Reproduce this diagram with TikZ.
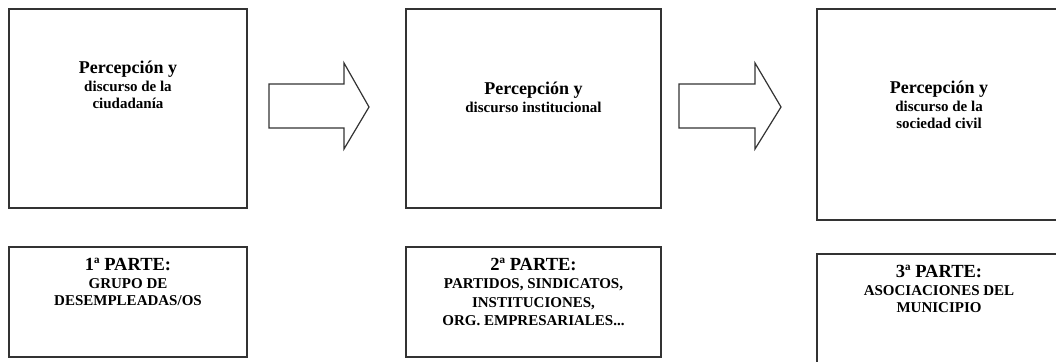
\documentclass[tikz,border=0pt]{standalone}
\usepackage{fontspec}
\setmainfont{Liberation Serif}
\begin{document}
\begin{tikzpicture}[x=1pt,y=-1pt,
  box/.style={draw=black!80,line width=1.2pt,fill=white},
  blockarrow/.style={draw=black!80,line width=1.2pt,fill=white,line join=miter},
  txt/.style={inner sep=0pt,align=center,anchor=north,font=\bfseries\fontsize{15}{17.5}\selectfont}]
\clip (0,0) rectangle (1056,361);
\fill[white] (0,0) rectangle (1056,361);
% boxes
\draw[box] (9,9) rectangle (247,208);
\draw[box] (9,247) rectangle (247,357);
\draw[box] (406,9) rectangle (661,208);
\draw[box] (406,247) rectangle (661,357);
\draw[box] (817,9) rectangle (1062,220);
\draw[box] (817,254) rectangle (1062,366);
% arrows
\draw[blockarrow] (269,84) -- (344,84) -- (344,63) -- (369,107) -- (344,149) -- (344,128) -- (269,128) -- cycle;
\draw[blockarrow] (679,84) -- (755,84) -- (755,63) -- (781,107) -- (755,149) -- (755,128) -- (679,128) -- cycle;
% texts
\node[txt] (t1) at (128,61) {{\fontsize{18}{18}\selectfont Percepción y}\\discurso de la\\ciudadanía};
\node[txt] (t2) at (533.5,82) {{\fontsize{18}{18}\selectfont Percepción y}\\discurso institucional};
\node[txt] (t3) at (939,81) {{\fontsize{18}{18}\selectfont Percepción y}\\discurso de la\\sociedad civil};
\node[txt] (b1) at (128,258) {{\fontsize{18.5}{18.5}\selectfont 1ª PARTE:}\\GRUPO DE\\DESEMPLEADAS/OS};
\node[txt,font=\bfseries\fontsize{15}{18.3}\selectfont] (b2) at (533.5,258) {{\fontsize{18.5}{18.5}\selectfont 2ª PARTE:}\\PARTIDOS, SINDICATOS,\\INSTITUCIONES,\\ORG. EMPRESARIALES...};
\node[txt] (b3) at (939,265) {{\fontsize{18.5}{18.5}\selectfont 3ª PARTE:}\\ASOCIACIONES DEL\\MUNICIPIO};
\end{tikzpicture}
\end{document}
